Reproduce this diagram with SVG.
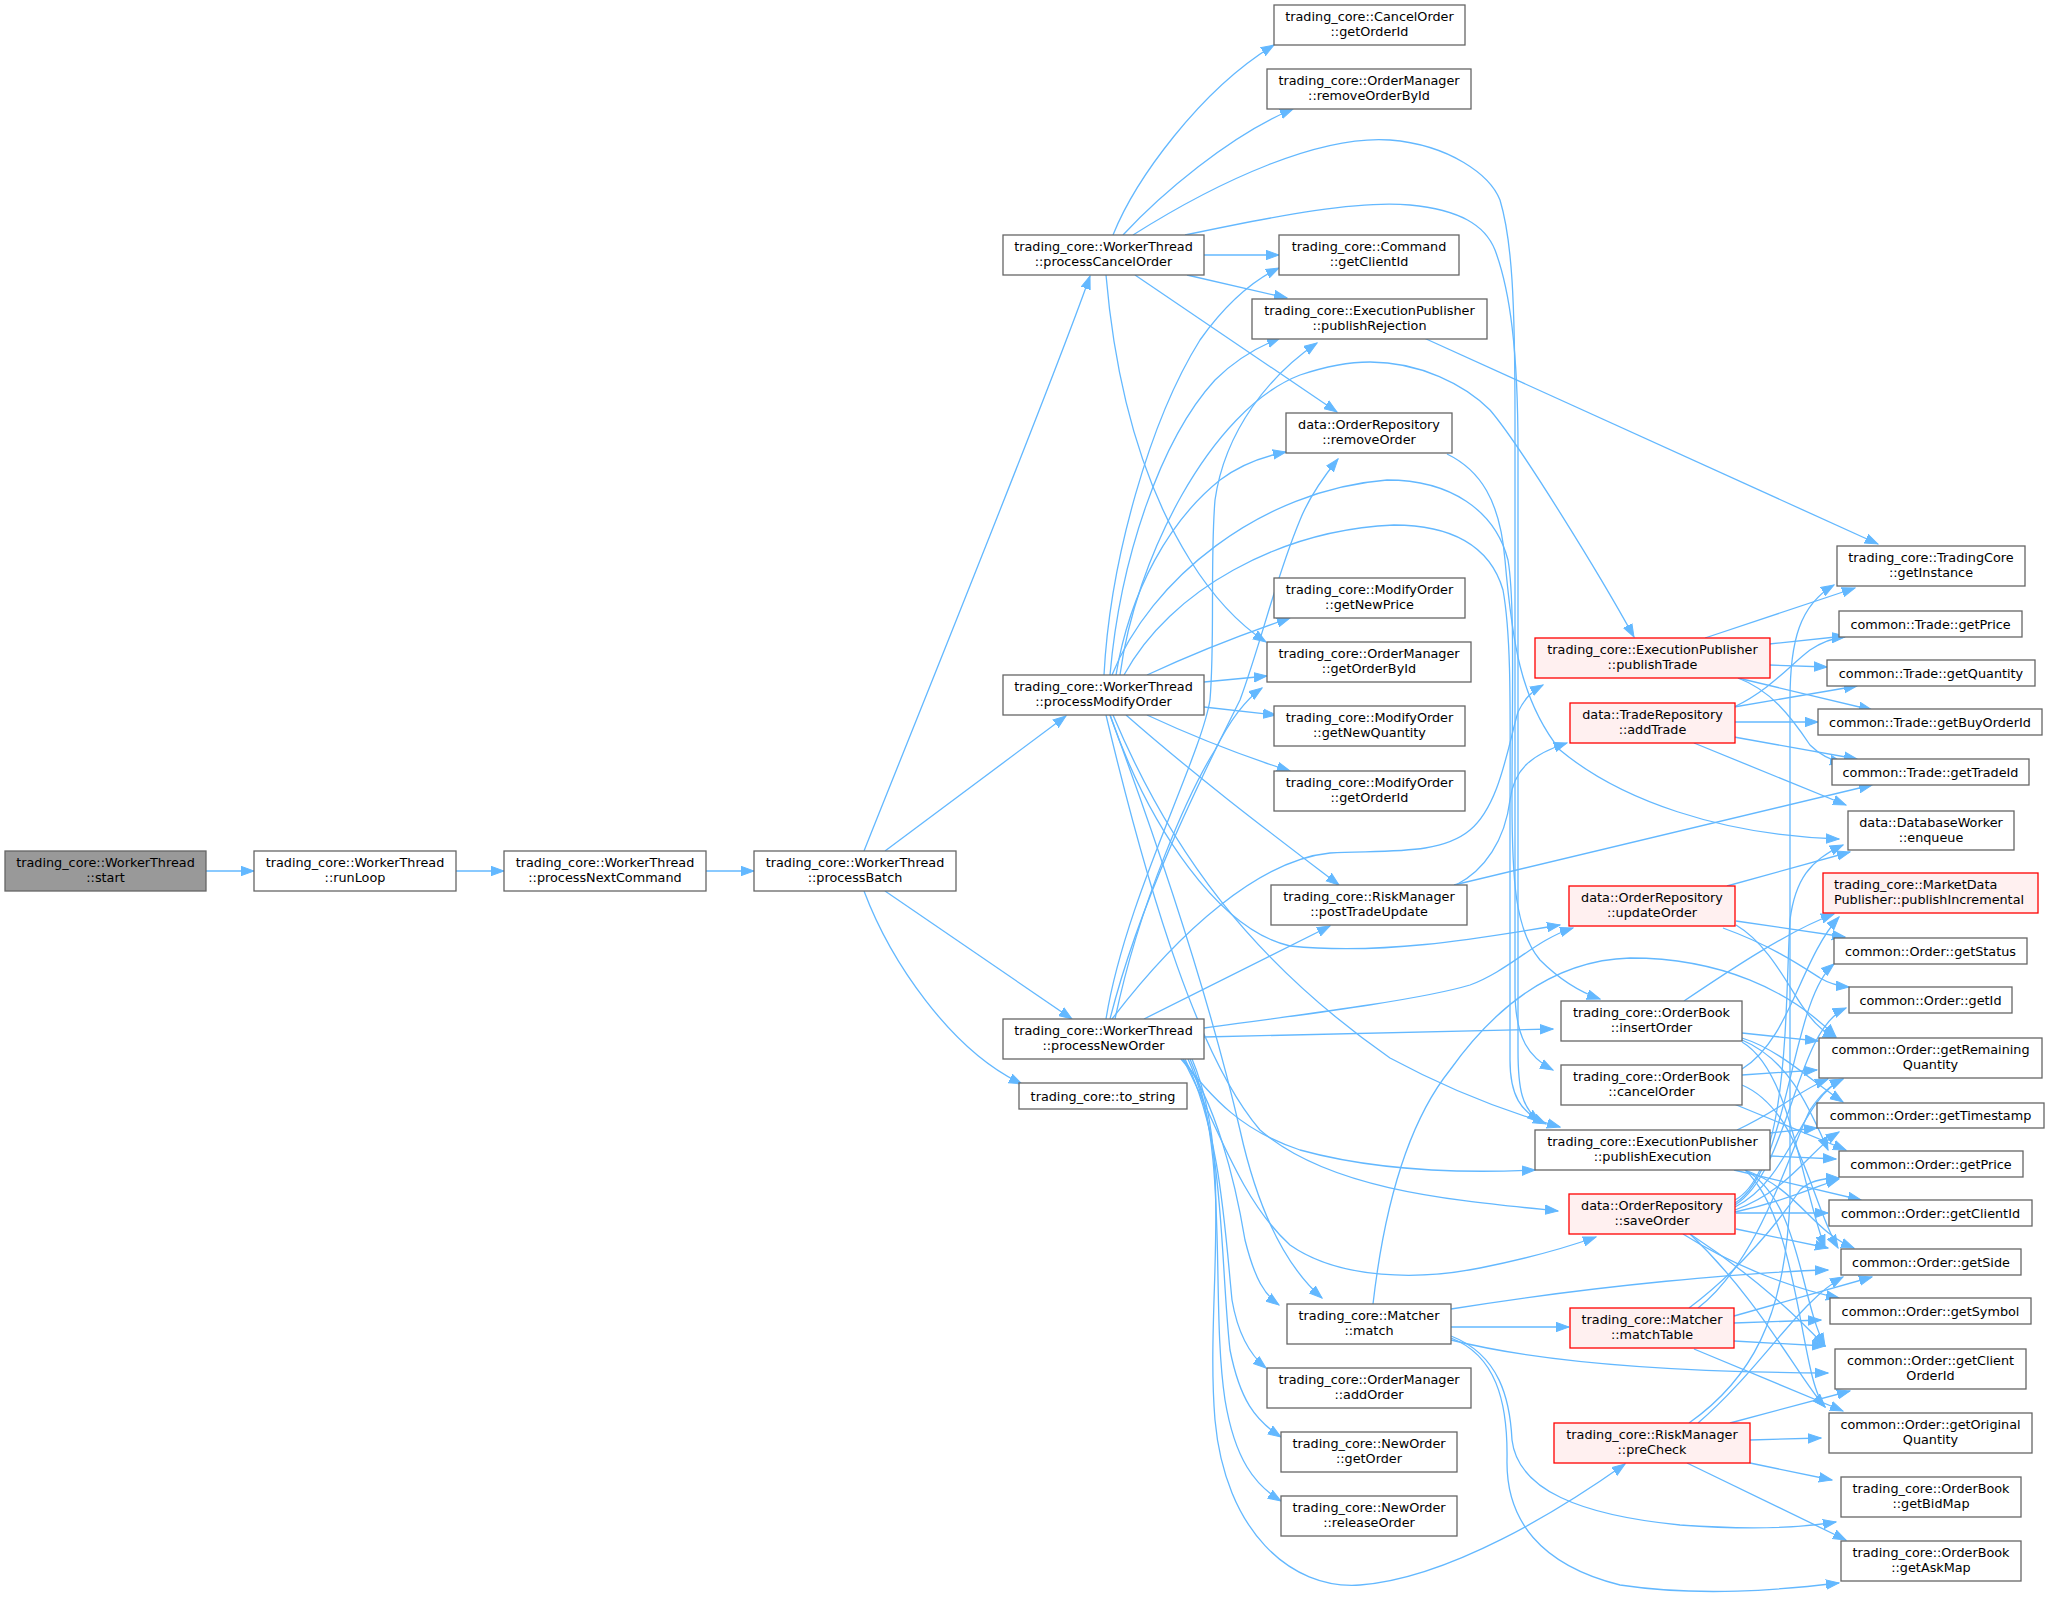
<svg xmlns="http://www.w3.org/2000/svg" width="2049" height="1597" viewBox="0 0 2049 1597">
<style>
.n rect{fill:#ffffff;stroke:#666666;stroke-width:1.3}
.r rect{fill:#fff0f0;stroke:#ff0000;stroke-width:1.3}
.g rect{fill:#999999;stroke:#666666;stroke-width:1.3}
text{font-family:"DejaVu Sans","Noto Sans",sans-serif;font-size:12.8px;fill:#000000;text-anchor:middle}
text.l{text-anchor:start}
#edges path{fill:none;stroke:#63b8ff;stroke-width:1.3;marker-end:url(#a)}
</style>
<defs>
<marker id="a" markerUnits="userSpaceOnUse" markerWidth="14" markerHeight="11" viewBox="-13 -5.5 14 11" refX="0" refY="0" orient="auto">
<polygon points="0,0 -13,-4.7 -13,4.7" fill="#63b8ff" stroke="#63b8ff" stroke-width="1"/>
</marker>
</defs>
<rect x="0" y="0" width="2049" height="1597" fill="#ffffff"/>
<g id="edges">
<path d="M206,871 L254,871"/>
<path d="M456,871 L504,871"/>
<path d="M706,871 L754,871"/>
<path d="M864,851 C900,760 1050,390 1090,276"/>
<path d="M885,851 L1066,716"/>
<path d="M885,891 L1072,1019"/>
<path d="M864,891 C890,960 950,1050 1022,1084"/>
<path d="M1113,235 C1135,180 1200,90 1274,45"/>
<path d="M1123,235 C1160,195 1230,135 1293,109"/>
<path d="M1133,235 C1220,180 1320,135 1390,140 C1450,145 1490,175 1500,200 C1512,240 1515,300 1515,420 L1515,990 C1515,1040 1530,1058 1553,1070"/>
<path d="M1185,235 C1280,215 1360,200 1410,205 C1460,210 1485,225 1495,250 C1510,290 1518,350 1518,450 L1518,1050 C1518,1090 1522,1108 1540,1122"/>
<path d="M1204,255 L1279,255"/>
<path d="M1187,275 L1287,298"/>
<path d="M1135,275 L1337,412"/>
<path d="M1106,275 C1115,380 1140,480 1190,560 C1215,600 1240,625 1266,642"/>
<path d="M1104,675 C1110,560 1150,420 1200,340 C1225,305 1250,282 1279,268"/>
<path d="M1110,675 C1120,560 1160,440 1215,380 C1235,360 1255,348 1280,338"/>
<path d="M1116,675 C1130,590 1170,520 1220,480 C1240,465 1260,457 1286,452"/>
<path d="M1120,675 C1135,560 1210,410 1300,375 C1330,365 1350,362 1370,362 C1420,362 1465,385 1490,410 C1520,445 1600,575 1634,637"/>
<path d="M1112,675 C1150,580 1260,490 1387,480 C1450,480 1495,510 1508,560 C1515,600 1512,700 1512,800 C1512,880 1515,930 1540,960 C1560,980 1580,992 1600,999"/>
<path d="M1124,675 C1170,590 1280,530 1394,525 C1450,525 1490,545 1503,590 C1512,640 1510,720 1510,820 L1510,1060 C1510,1095 1520,1112 1546,1124"/>
<path d="M1147,675 C1190,655 1240,635 1290,618"/>
<path d="M1204,682 L1267,676"/>
<path d="M1204,707 L1276,715"/>
<path d="M1147,715 C1190,735 1240,755 1290,771"/>
<path d="M1126,715 C1200,780 1280,840 1339,885"/>
<path d="M1110,715 C1150,830 1220,930 1290,946 C1380,955 1470,940 1560,925"/>
<path d="M1113,715 C1170,850 1250,960 1390,1058 C1440,1085 1500,1110 1560,1127"/>
<path d="M1106,715 C1150,900 1200,1060 1260,1130 C1330,1190 1450,1200 1558,1211"/>
<path d="M1110,715 C1160,850 1210,1000 1240,1130 C1260,1220 1290,1270 1322,1298"/>
<path d="M1106,1019 C1125,900 1200,760 1210,700 C1215,640 1210,560 1215,500 C1225,430 1270,375 1317,343"/>
<path d="M1110,1019 C1140,900 1200,780 1240,700 C1262,640 1275,580 1300,520 C1310,495 1325,475 1338,459"/>
<path d="M1115,1019 C1140,900 1190,790 1215,750 C1230,720 1245,700 1262,688"/>
<path d="M1144,1019 L1330,926"/>
<path d="M1112,1019 C1180,930 1260,860 1330,853 C1390,850 1440,855 1470,830 C1500,805 1508,745 1518,712 C1525,698 1532,691 1543,685"/>
<path d="M1204,1028 C1300,1015 1420,1000 1470,985 C1510,970 1535,940 1573,928"/>
<path d="M1204,1037 L1553,1029"/>
<path d="M1181,1059 C1215,1100 1240,1130 1300,1150 C1380,1172 1470,1173 1535,1170"/>
<path d="M1183,1059 C1215,1120 1240,1200 1290,1245 C1340,1280 1420,1280 1480,1268 C1530,1258 1565,1248 1596,1237"/>
<path d="M1183,1059 C1215,1100 1235,1180 1245,1240 C1255,1280 1265,1295 1279,1305"/>
<path d="M1185,1059 C1220,1130 1225,1230 1232,1300 C1238,1335 1250,1355 1266,1368"/>
<path d="M1188,1059 C1225,1140 1220,1260 1230,1350 C1240,1400 1255,1420 1281,1437"/>
<path d="M1190,1059 C1230,1150 1210,1300 1225,1400 C1235,1460 1255,1485 1281,1501"/>
<path d="M1192,1059 C1235,1160 1205,1300 1215,1420 C1225,1530 1290,1590 1360,1585 C1450,1578 1560,1510 1625,1464"/>
<path d="M1424,338 L1878,544"/>
<path d="M1447,454 C1480,470 1500,500 1505,560 C1512,640 1520,700 1560,750 C1620,800 1720,835 1839,839"/>
<path d="M1456,885 C1485,870 1505,840 1510,800 C1514,770 1530,755 1567,743"/>
<path d="M1454,885 L1872,785"/>
<path d="M1373,1304 C1385,1200 1410,1120 1450,1070 C1500,1000 1560,960 1630,958 C1720,958 1790,990 1836,1037"/>
<path d="M1451,1309 C1600,1285 1750,1272 1828,1270"/>
<path d="M1451,1327 L1569,1327"/>
<path d="M1451,1340 C1530,1360 1650,1372 1828,1373"/>
<path d="M1451,1336 C1500,1355 1510,1400 1512,1440 C1518,1490 1580,1515 1680,1525 C1750,1530 1800,1528 1836,1522"/>
<path d="M1451,1338 C1495,1355 1508,1400 1507,1460 C1506,1520 1540,1565 1620,1585 C1700,1597 1780,1590 1839,1583"/>
<path d="M1705,638 L1855,588"/>
<path d="M1769,644 L1845,636"/>
<path d="M1769,665 L1827,667"/>
<path d="M1738,678 L1872,710"/>
<path d="M1738,678 C1770,690 1790,715 1810,745 C1820,755 1830,760 1843,763"/>
<path d="M1734,707 C1770,690 1790,665 1810,650 C1822,642 1832,638 1845,637"/>
<path d="M1734,707 L1857,686"/>
<path d="M1734,722 L1818,722"/>
<path d="M1734,737 L1857,759"/>
<path d="M1694,743 L1846,805"/>
<path d="M1727,886 L1850,852"/>
<path d="M1736,921 L1845,937"/>
<path d="M1723,928 C1770,945 1800,965 1820,978 C1830,984 1838,986 1849,987"/>
<path d="M1736,925 C1770,945 1790,990 1805,1010 C1815,1025 1825,1033 1836,1038"/>
<path d="M1684,1001 C1730,970 1790,930 1834,914"/>
<path d="M1742,1033 L1818,1041"/>
<path d="M1742,1038 C1780,1050 1810,1080 1843,1102"/>
<path d="M1742,1040 C1790,1060 1810,1110 1828,1150"/>
<path d="M1742,1042 C1790,1070 1800,1180 1825,1248"/>
<path d="M1742,1069 C1790,1040 1800,960 1839,917"/>
<path d="M1742,1075 L1817,1070"/>
<path d="M1734,1104 L1846,1150"/>
<path d="M1742,1085 C1800,1110 1810,1200 1838,1248"/>
<path d="M1770,1133 L1817,1128"/>
<path d="M1770,1156 L1836,1159"/>
<path d="M1734,1170 L1861,1200"/>
<path d="M1737,1130 C1780,1110 1800,1090 1828,1079"/>
<path d="M1745,1170 C1800,1190 1810,1230 1854,1248"/>
<path d="M1745,1170 C1800,1200 1800,1300 1825,1346"/>
<path d="M1745,1170 C1800,1220 1800,1380 1825,1407"/>
<path d="M1735,1200 C1790,1170 1785,1000 1790,920 C1795,880 1810,860 1843,845"/>
<path d="M1735,1203 C1790,1170 1790,1000 1834,964"/>
<path d="M1735,1205 C1790,1170 1795,1030 1846,1008"/>
<path d="M1735,1207 C1790,1180 1800,1100 1843,1079"/>
<path d="M1735,1210 C1790,1190 1810,1150 1839,1132"/>
<path d="M1735,1212 C1790,1200 1820,1185 1839,1179"/>
<path d="M1736,1213 L1828,1213"/>
<path d="M1736,1229 L1828,1248"/>
<path d="M1683,1234 C1740,1270 1800,1290 1839,1298"/>
<path d="M1690,1234 C1760,1280 1800,1320 1825,1346"/>
<path d="M1690,1234 C1760,1300 1800,1380 1825,1407"/>
<path d="M1689,1308 C1740,1270 1780,1220 1800,1190 C1810,1180 1825,1178 1839,1178"/>
<path d="M1698,1308 C1760,1260 1790,1150 1810,1110 C1820,1095 1830,1085 1843,1079"/>
<path d="M1734,1316 L1872,1277"/>
<path d="M1734,1323 L1821,1320"/>
<path d="M1734,1341 L1825,1346"/>
<path d="M1694,1349 L1843,1411"/>
<path d="M1689,1423 C1750,1380 1785,1320 1790,1200 L1790,700 C1790,640 1800,605 1834,585"/>
<path d="M1698,1423 C1760,1370 1800,1300 1843,1277"/>
<path d="M1730,1423 L1850,1391"/>
<path d="M1750,1440 L1821,1438"/>
<path d="M1750,1463 L1832,1480"/>
<path d="M1687,1463 L1846,1540"/>
</g>
<g id="start" class="g"><rect x="5" y="851" width="201" height="40"/><text x="105.5" y="867">trading_core::WorkerThread</text><text x="105.5" y="882">::start</text></g>
<g id="runLoop" class="n"><rect x="254" y="851" width="202" height="40"/><text x="355" y="867">trading_core::WorkerThread</text><text x="355" y="882">::runLoop</text></g>
<g id="processNextCommand" class="n"><rect x="504" y="851" width="202" height="40"/><text x="605" y="867">trading_core::WorkerThread</text><text x="605" y="882">::processNextCommand</text></g>
<g id="processBatch" class="n"><rect x="754" y="851" width="202" height="40"/><text x="855" y="867">trading_core::WorkerThread</text><text x="855" y="882">::processBatch</text></g>
<g id="processCancelOrder" class="n"><rect x="1003" y="235" width="201" height="40"/><text x="1103.5" y="251">trading_core::WorkerThread</text><text x="1103.5" y="266">::processCancelOrder</text></g>
<g id="processModifyOrder" class="n"><rect x="1003" y="675" width="201" height="40"/><text x="1103.5" y="691">trading_core::WorkerThread</text><text x="1103.5" y="706">::processModifyOrder</text></g>
<g id="processNewOrder" class="n"><rect x="1003" y="1019" width="201" height="40"/><text x="1103.5" y="1035">trading_core::WorkerThread</text><text x="1103.5" y="1050">::processNewOrder</text></g>
<g id="to_string" class="n"><rect x="1019" y="1083" width="168" height="26"/><text x="1103" y="1100.5">trading_core::to_string</text></g>
<g id="CancelOrder_getOrderId" class="n"><rect x="1274" y="5" width="191" height="40"/><text x="1369.5" y="21">trading_core::CancelOrder</text><text x="1369.5" y="36">::getOrderId</text></g>
<g id="removeOrderById" class="n"><rect x="1267" y="69" width="204" height="40"/><text x="1369" y="85">trading_core::OrderManager</text><text x="1369" y="100">::removeOrderById</text></g>
<g id="Command_getClientId" class="n"><rect x="1279" y="235" width="180" height="40"/><text x="1369" y="251">trading_core::Command</text><text x="1369" y="266">::getClientId</text></g>
<g id="publishRejection" class="n"><rect x="1252" y="299" width="235" height="40"/><text x="1369.5" y="315">trading_core::ExecutionPublisher</text><text x="1369.5" y="330">::publishRejection</text></g>
<g id="removeOrder" class="n"><rect x="1286" y="413" width="166" height="40"/><text x="1369" y="429">data::OrderRepository</text><text x="1369" y="444">::removeOrder</text></g>
<g id="getNewPrice" class="n"><rect x="1274" y="578" width="191" height="40"/><text x="1369.5" y="594">trading_core::ModifyOrder</text><text x="1369.5" y="609">::getNewPrice</text></g>
<g id="getOrderById" class="n"><rect x="1267" y="642" width="204" height="40"/><text x="1369" y="658">trading_core::OrderManager</text><text x="1369" y="673">::getOrderById</text></g>
<g id="getNewQuantity" class="n"><rect x="1274" y="706" width="191" height="40"/><text x="1369.5" y="722">trading_core::ModifyOrder</text><text x="1369.5" y="737">::getNewQuantity</text></g>
<g id="ModifyOrder_getOrderId" class="n"><rect x="1274" y="771" width="191" height="40"/><text x="1369.5" y="787">trading_core::ModifyOrder</text><text x="1369.5" y="802">::getOrderId</text></g>
<g id="postTradeUpdate" class="n"><rect x="1271" y="885" width="196" height="40"/><text x="1369" y="901">trading_core::RiskManager</text><text x="1369" y="916">::postTradeUpdate</text></g>
<g id="match" class="n"><rect x="1287" y="1304" width="164" height="40"/><text x="1369" y="1320">trading_core::Matcher</text><text x="1369" y="1335">::match</text></g>
<g id="addOrder" class="n"><rect x="1267" y="1368" width="204" height="40"/><text x="1369" y="1384">trading_core::OrderManager</text><text x="1369" y="1399">::addOrder</text></g>
<g id="NewOrder_getOrder" class="n"><rect x="1281" y="1432" width="176" height="40"/><text x="1369" y="1448">trading_core::NewOrder</text><text x="1369" y="1463">::getOrder</text></g>
<g id="releaseOrder" class="n"><rect x="1281" y="1496" width="176" height="40"/><text x="1369" y="1512">trading_core::NewOrder</text><text x="1369" y="1527">::releaseOrder</text></g>
<g id="publishTrade" class="r"><rect x="1535" y="638" width="235" height="40"/><text x="1652.5" y="654">trading_core::ExecutionPublisher</text><text x="1652.5" y="669">::publishTrade</text></g>
<g id="addTrade" class="r"><rect x="1570" y="703" width="165" height="40"/><text x="1652.5" y="719">data::TradeRepository</text><text x="1652.5" y="734">::addTrade</text></g>
<g id="updateOrder" class="r"><rect x="1569" y="886" width="166" height="40"/><text x="1652" y="902">data::OrderRepository</text><text x="1652" y="917">::updateOrder</text></g>
<g id="insertOrder" class="n"><rect x="1561" y="1001" width="181" height="40"/><text x="1651.5" y="1017">trading_core::OrderBook</text><text x="1651.5" y="1032">::insertOrder</text></g>
<g id="cancelOrder" class="n"><rect x="1561" y="1065" width="181" height="40"/><text x="1651.5" y="1081">trading_core::OrderBook</text><text x="1651.5" y="1096">::cancelOrder</text></g>
<g id="publishExecution" class="n"><rect x="1535" y="1130" width="235" height="40"/><text x="1652.5" y="1146">trading_core::ExecutionPublisher</text><text x="1652.5" y="1161">::publishExecution</text></g>
<g id="saveOrder" class="r"><rect x="1569" y="1194" width="166" height="40"/><text x="1652" y="1210">data::OrderRepository</text><text x="1652" y="1225">::saveOrder</text></g>
<g id="matchTable" class="r"><rect x="1570" y="1308" width="164" height="40"/><text x="1652" y="1324">trading_core::Matcher</text><text x="1652" y="1339">::matchTable</text></g>
<g id="preCheck" class="r"><rect x="1554" y="1423" width="196" height="40"/><text x="1652" y="1439">trading_core::RiskManager</text><text x="1652" y="1454">::preCheck</text></g>
<g id="getInstance" class="n"><rect x="1837" y="546" width="188" height="40"/><text x="1931" y="562">trading_core::TradingCore</text><text x="1931" y="577">::getInstance</text></g>
<g id="Trade_getPrice" class="n"><rect x="1839" y="611" width="183" height="26"/><text x="1930.5" y="628.5">common::Trade::getPrice</text></g>
<g id="Trade_getQuantity" class="n"><rect x="1827" y="660" width="208" height="26"/><text x="1931" y="677.5">common::Trade::getQuantity</text></g>
<g id="Trade_getBuyOrderId" class="n"><rect x="1818" y="709" width="224" height="26"/><text x="1930" y="726.5">common::Trade::getBuyOrderId</text></g>
<g id="Trade_getTradeId" class="n"><rect x="1832" y="759" width="197" height="26"/><text x="1930.5" y="776.5">common::Trade::getTradeId</text></g>
<g id="enqueue" class="n"><rect x="1848" y="811" width="166" height="39"/><text x="1931" y="826.5">data::DatabaseWorker</text><text x="1931" y="841.5">::enqueue</text></g>
<g id="publishIncremental" class="r"><rect x="1823" y="873" width="215" height="40"/><text class="l" x="1834" y="889">trading_core::MarketData</text><text class="l" x="1834" y="904">Publisher::publishIncremental</text></g>
<g id="getStatus" class="n"><rect x="1834" y="938" width="193" height="26"/><text x="1930.5" y="955.5">common::Order::getStatus</text></g>
<g id="getId" class="n"><rect x="1849" y="987" width="163" height="26"/><text x="1930.5" y="1004.5">common::Order::getId</text></g>
<g id="getRemainingQuantity" class="n"><rect x="1819" y="1038" width="223" height="40"/><text x="1930.5" y="1054">common::Order::getRemaining</text><text x="1930.5" y="1069">Quantity</text></g>
<g id="getTimestamp" class="n"><rect x="1817" y="1103" width="227" height="25"/><text x="1930.5" y="1120">common::Order::getTimestamp</text></g>
<g id="Order_getPrice" class="n"><rect x="1839" y="1151" width="184" height="26"/><text x="1931" y="1168.5">common::Order::getPrice</text></g>
<g id="Order_getClientId" class="n"><rect x="1829" y="1200" width="203" height="26"/><text x="1930.5" y="1217.5">common::Order::getClientId</text></g>
<g id="getSide" class="n"><rect x="1841" y="1249" width="180" height="26"/><text x="1931" y="1266.5">common::Order::getSide</text></g>
<g id="getSymbol" class="n"><rect x="1830" y="1298" width="201" height="26"/><text x="1930.5" y="1315.5">common::Order::getSymbol</text></g>
<g id="getClientOrderId" class="n"><rect x="1835" y="1349" width="191" height="40"/><text x="1930.5" y="1365">common::Order::getClient</text><text x="1930.5" y="1380">OrderId</text></g>
<g id="getOriginalQuantity" class="n"><rect x="1829" y="1413" width="203" height="40"/><text x="1930.5" y="1429">common::Order::getOriginal</text><text x="1930.5" y="1444">Quantity</text></g>
<g id="getBidMap" class="n"><rect x="1841" y="1477" width="180" height="40"/><text x="1931" y="1493">trading_core::OrderBook</text><text x="1931" y="1508">::getBidMap</text></g>
<g id="getAskMap" class="n"><rect x="1841" y="1541" width="180" height="40"/><text x="1931" y="1557">trading_core::OrderBook</text><text x="1931" y="1572">::getAskMap</text></g>
</svg>
